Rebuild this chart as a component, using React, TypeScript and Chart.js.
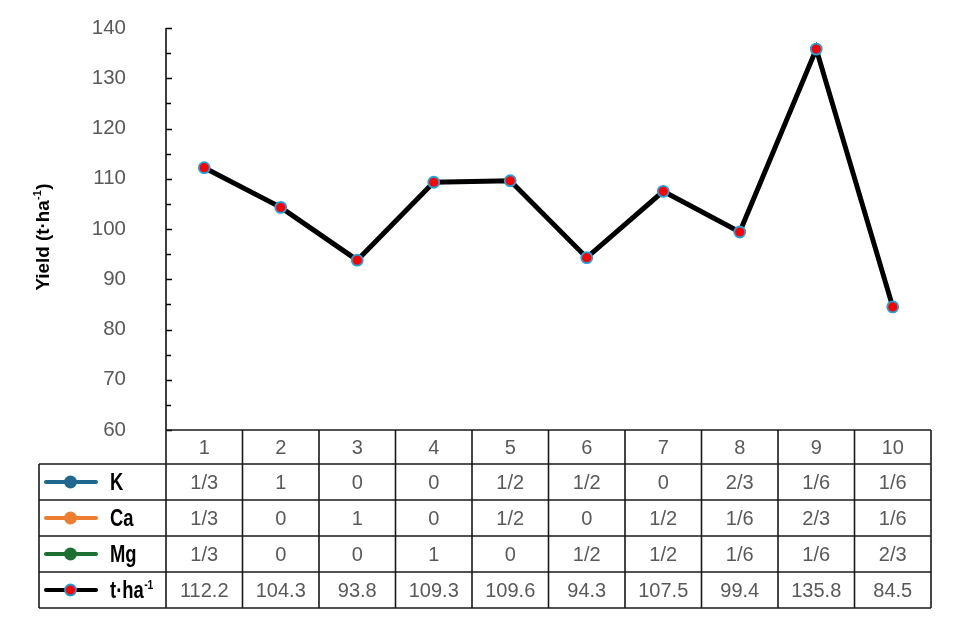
import React, { useEffect, useRef } from "react";
import { Chart, registerables } from "chart.js";

Chart.register(...registerables);

// ---- Data ----
const categories = ["1", "2", "3", "4", "5", "6", "7", "8", "9", "10"];
const yieldValues = [112.2, 104.3, 93.8, 109.3, 109.6, 94.3, 107.5, 99.4, 135.8, 84.5];
const kShares = ["1/3", "1", "0", "0", "1/2", "1/2", "0", "2/3", "1/6", "1/6"];
const caShares = ["1/3", "0", "1", "0", "1/2", "0", "1/2", "1/6", "2/3", "1/6"];
const mgShares = ["1/3", "0", "0", "1", "0", "1/2", "1/2", "1/6", "1/6", "2/3"];
const yieldLabels = ["112.2", "104.3", "93.8", "109.3", "109.6", "94.3", "107.5", "99.4", "135.8", "84.5"];
const yTickLabels = [60, 70, 80, 90, 100, 110, 120, 130, 140];
const yMinorTicks = [65, 75, 85, 95, 105, 115, 125, 135];

const legendRows = [
  { label: "K", sup: "", color: "#1F6890", values: kShares },
  { label: "Ca", sup: "", color: "#ED7D31", values: caShares },
  { label: "Mg", sup: "", color: "#1E6F32", values: mgShares },
  { label: "t·ha", sup: "-1", color: "#000000", values: yieldLabels },
];

const GRAY = "#595959";
const FONT = "'Liberation Sans', Arial, sans-serif";

function drawCondensed(
  ctx: CanvasRenderingContext2D,
  main: string,
  sup: string,
  tail: string,
  x: number,
  y: number,
  size: number,
  supSize: number,
  scaleX: number,
  align: "left" | "center",
  targetWidth?: number
) {
  ctx.save();
  ctx.font = `bold ${size}px ${FONT}`;
  const w1 = ctx.measureText(main).width;
  const w3 = tail ? ctx.measureText(tail).width : 0;
  ctx.font = `bold ${supSize}px ${FONT}`;
  const w2 = sup ? ctx.measureText(sup).width + 1 : 0;
  const total = w1 + w2 + w3;
  let sx = scaleX;
  if (targetWidth && targetWidth > 0) sx = targetWidth / total;
  ctx.translate(x, y);
  ctx.scale(sx, 1);
  const startX = align === "center" ? -total / 2 : 0;
  ctx.fillStyle = "#000";
  ctx.textBaseline = "middle";
  ctx.textAlign = "left";
  ctx.font = `bold ${size}px ${FONT}`;
  ctx.fillText(main, startX, 0);
  if (sup) {
    ctx.font = `bold ${supSize}px ${FONT}`;
    ctx.fillText(sup, startX + w1 + 0.5, -size * 0.3);
  }
  if (tail) {
    ctx.font = `bold ${size}px ${FONT}`;
    ctx.fillText(tail, startX + w1 + w2, 0);
  }
  ctx.restore();
}

const tablePlugin = {
  id: "tableAxis",
  afterDraw(chart: any) {
    const ctx: CanvasRenderingContext2D = chart.ctx;
    const xs = chart.scales.x;
    const ys = chart.scales.y;
    const area = chart.chartArea;
    const left = area.left;
    const right = area.right;
    const bottom = area.bottom;
    const n = categories.length;
    const colW = xs.getPixelForValue(1) - xs.getPixelForValue(0);
    const legendLeft = 39;
    const headerH = 34;
    const rowH = 36;
    const rowTops = [bottom + headerH, bottom + headerH + rowH, bottom + headerH + 2 * rowH, bottom + headerH + 3 * rowH];
    const tableBottom = bottom + headerH + 4 * rowH;

    ctx.save();
    // y axis line + ticks
    ctx.strokeStyle = "#000";
    ctx.lineWidth = 1.5;
    ctx.beginPath();
    ctx.moveTo(left, ys.getPixelForValue(140));
    ctx.lineTo(left, bottom);
    for (const v of yTickLabels) {
      const py = Math.round(ys.getPixelForValue(v)) + 0.5;
      ctx.moveTo(left, py);
      ctx.lineTo(left + 6, py);
    }
    for (const v of yMinorTicks) {
      const py = Math.round(ys.getPixelForValue(v)) + 0.5;
      ctx.moveTo(left, py);
      ctx.lineTo(left + 5, py);
    }
    ctx.stroke();

    // y tick labels
    ctx.fillStyle = GRAY;
    ctx.font = `20.5px ${FONT}`;
    ctx.textAlign = "right";
    ctx.textBaseline = "middle";
    for (const v of yTickLabels) {
      ctx.fillText(String(v), 126, ys.getPixelForValue(v));
    }

    // y title
    ctx.save();
    ctx.translate(44, 237);
    ctx.rotate(-Math.PI / 2);
    drawCondensed(ctx, "Yield (t·ha", "-1", ")", 0, 0, 19, 11, 1, "center", 107);
    ctx.restore();

    // table grid
    ctx.strokeStyle = "#1a1a1a";
    ctx.lineWidth = 1.6;
    ctx.beginPath();
    ctx.moveTo(left, bottom);
    ctx.lineTo(right, bottom);
    for (const ry of rowTops) {
      ctx.moveTo(legendLeft, ry);
      ctx.lineTo(right, ry);
    }
    ctx.moveTo(legendLeft, tableBottom);
    ctx.lineTo(right, tableBottom);
    ctx.moveTo(legendLeft, rowTops[0]);
    ctx.lineTo(legendLeft, tableBottom);
    for (let i = 0; i <= n; i++) {
      const px = xs.getPixelForValue(0) - colW / 2 + i * colW;
      ctx.moveTo(px, bottom);
      ctx.lineTo(px, tableBottom);
    }
    ctx.stroke();

    // header labels
    ctx.fillStyle = GRAY;
    ctx.font = `20px ${FONT}`;
    ctx.textAlign = "center";
    ctx.textBaseline = "middle";
    categories.forEach((c, i) => {
      ctx.fillText(c, xs.getPixelForValue(i), bottom + headerH / 2 + 1);
    });

    // rows
    legendRows.forEach((row, r) => {
      const cy = rowTops[r] + rowH / 2;
      ctx.fillStyle = GRAY;
      ctx.font = `20px ${FONT}`;
      ctx.textAlign = "center";
      ctx.textBaseline = "middle";
      row.values.forEach((v, i) => {
        ctx.fillText(v, xs.getPixelForValue(i), cy + 1);
      });
      // legend icon
      ctx.save();
      ctx.strokeStyle = row.color;
      ctx.lineWidth = 4;
      ctx.lineCap = "round";
      ctx.beginPath();
      ctx.moveTo(46, cy);
      ctx.lineTo(96, cy);
      ctx.stroke();
      ctx.beginPath();
      if (r === 3) {
        ctx.arc(70.5, cy, 5.5, 0, Math.PI * 2);
        ctx.fillStyle = "#FF0000";
        ctx.fill();
        ctx.lineWidth = 1.8;
        ctx.strokeStyle = "#1E9BD7";
        ctx.stroke();
      } else {
        ctx.arc(70.5, cy, 6.5, 0, Math.PI * 2);
        ctx.fillStyle = row.color;
        ctx.fill();
      }
      ctx.restore();
      drawCondensed(ctx, row.label, row.sup, "", 110, cy + 2, 23, 13, 0.8, "left");
    });
    ctx.restore();
  },
};

export default function App() {
  const canvasRef = useRef<HTMLCanvasElement | null>(null);

  useEffect(() => {
    document.body.style.margin = "0";
    const canvas = canvasRef.current;
    if (!canvas) return;
    const chart = new Chart(canvas, {
      type: "line",
      data: {
        labels: categories,
        datasets: [
          {
            label: "t·ha-1",
            data: yieldValues,
            borderColor: "#000000",
            borderWidth: 5,
            pointRadius: 5.5,
            pointBackgroundColor: "#FF0000",
            pointBorderColor: "#22A2DC",
            pointBorderWidth: 1.8,
            tension: 0,
          },
        ],
      },
      options: {
        responsive: false,
        animation: false,
        devicePixelRatio: 1,
        layout: { padding: { left: 166, right: 30, top: 28, bottom: 192 } },
        plugins: { legend: { display: false }, tooltip: { enabled: false }, title: { display: false } },
        scales: {
          x: { type: "category", offset: true, display: false },
          y: { min: 60, max: 140, display: false },
        },
      },
      plugins: [tablePlugin],
    });
    return () => chart.destroy();
  }, []);

  return (
    <div style={{ position: "absolute", left: 0, top: 0, width: 961, height: 622, background: "#fff" }}>
      <canvas ref={canvasRef} width={961} height={622} style={{ width: 961, height: 622 }} />
    </div>
  );
}
